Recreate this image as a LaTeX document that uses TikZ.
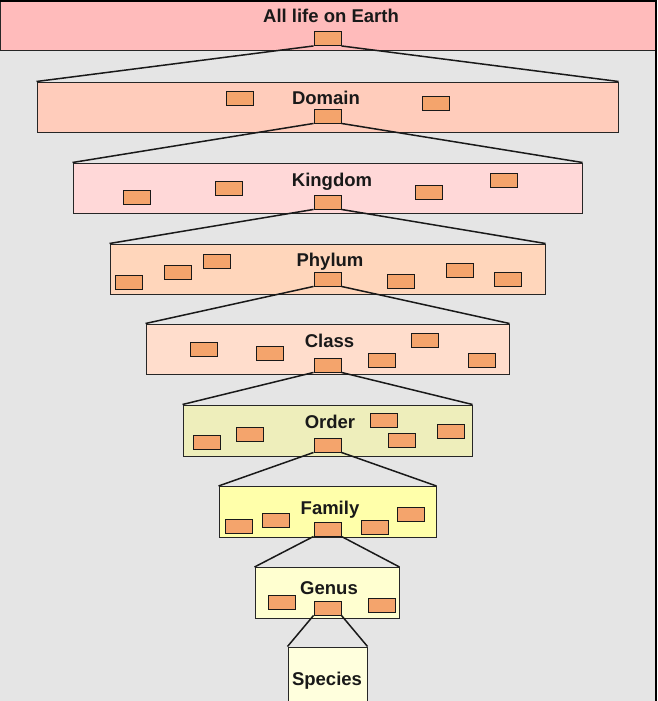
\documentclass[tikz,border=0pt]{standalone}
\usepackage{fontspec}
\setmainfont{Liberation Sans}
\usepackage{xcolor}
\usepackage{tikz}
\usetikzlibrary{positioning,calc}
\definecolor{bgfill}{HTML}{E5E5E5}
\definecolor{earthfill}{HTML}{FFBBBB}
\definecolor{domainfill}{HTML}{FFCCBB}
\definecolor{kingdomfill}{HTML}{FFD8D8}
\definecolor{phylumfill}{HTML}{FFD6BB}
\definecolor{classfill}{HTML}{FFDDCC}
\definecolor{orderfill}{HTML}{EEEEBB}
\definecolor{familyfill}{HTML}{FFFFAA}
\definecolor{genusfill}{HTML}{FFFFD0}
\definecolor{speciesfill}{HTML}{FFFFDD}
\definecolor{taxonfill}{HTML}{F4A46C}

\begin{document}
\begin{tikzpicture}[
    x=1pt, y=-1pt,
    level/.style={draw=black!85, line width=1pt, inner sep=0pt, minimum height=50pt},
    title/.style={font=\bfseries\fontsize{18.5}{20}\selectfont, text=black!90, inner sep=0pt, anchor=base},
    taxon/.style={draw=black!90, line width=0.9pt, fill=taxonfill, inner sep=0pt, minimum width=27pt, minimum height=14pt},
    link/.style={line width=1.5pt, black!90},
]
    \useasboundingbox (0,0) rectangle (657,701);
    \fill[bgfill] (0,0) rectangle (657,701);

    % Levels
    \node[level, fill=earthfill, minimum width=655pt, minimum height=49pt] (earth) at (327.5,26.5) {};
    \node[level, fill=domainfill, minimum width=581pt] (domain) at (327.5,107) {};
    \node[level, fill=kingdomfill, minimum width=509pt] (kingdom) at (327.5,188) {};
    \node[level, fill=phylumfill, minimum width=435pt] (phylum) at (327.5,269) {};
    \node[level, fill=classfill, minimum width=363pt] (class) at (327.5,349) {};
    \node[level, fill=orderfill, minimum width=289pt, minimum height=51pt] (order) at (327.5,430.5) {};
    \node[level, fill=familyfill, minimum width=217pt, minimum height=51pt] (family) at (327.5,512) {};
    \node[level, fill=genusfill, minimum width=144pt, minimum height=51pt] (genus) at (327,593) {};
    \node[level, fill=speciesfill, minimum width=79pt, minimum height=66pt] (species) at (327.5,680) {};

    % Titles (on their baselines)
    \node[title] (earth_t) at (331,23) {All life on Earth};
    \node[title] (domain_t) at (326,104) {Domain};
    \node[title] (kingdom_t) at (332,186) {Kingdom};
    \node[title] (phylum_t) at (330,266) {Phylum};
    \node[title] (class_t) at (329.5,347) {Class};
    \node[title] (order_t) at (330,428) {Order};
    \node[title] (family_t) at (330,514) {Family};
    \node[title] (genus_t) at (329,594) {Genus};
    \node[title] (species_t) at (327,685) {Species};

    % Members (the _r one is opened below)
    \node[taxon] (earth_r) at (327.5,38.5) {};

    \node[taxon] (domain_a) at (239.5,98) {};
    \node[taxon] (domain_b) at (436,103) {};
    \node[taxon] (domain_r) at (327.5,116) {};

    \node[taxon] (kingdom_a) at (136.5,197) {};
    \node[taxon] (kingdom_b) at (228.5,188) {};
    \node[taxon] (kingdom_c) at (428.5,192) {};
    \node[taxon] (kingdom_d) at (503.5,180) {};
    \node[taxon] (kingdom_r) at (327.5,202) {};

    \node[taxon] (phylum_a) at (128.5,282) {};
    \node[taxon] (phylum_b) at (177.5,272) {};
    \node[taxon] (phylum_c) at (216.5,261) {};
    \node[taxon] (phylum_d) at (400.5,281) {};
    \node[taxon] (phylum_e) at (459.5,270) {};
    \node[taxon] (phylum_f) at (508,279) {};
    \node[taxon] (phylum_r) at (327.5,279) {};

    \node[taxon] (class_a) at (203.5,349.5) {};
    \node[taxon] (class_b) at (269.5,353) {};
    \node[taxon] (class_c) at (382,360) {};
    \node[taxon] (class_d) at (425,340) {};
    \node[taxon] (class_e) at (481.5,360) {};
    \node[taxon] (class_r) at (327.5,365) {};

    \node[taxon] (order_a) at (206.5,442) {};
    \node[taxon] (order_b) at (249.5,434) {};
    \node[taxon] (order_c) at (383.5,420) {};
    \node[taxon] (order_d) at (401.5,440) {};
    \node[taxon] (order_e) at (450.5,431) {};
    \node[taxon] (order_r) at (327.5,445) {};

    \node[taxon] (family_a) at (238.5,526) {};
    \node[taxon] (family_b) at (275.5,520) {};
    \node[taxon] (family_c) at (374.5,527) {};
    \node[taxon] (family_d) at (410.5,514) {};
    \node[taxon] (family_r) at (327.5,529) {};

    \node[taxon] (genus_a) at (281.5,602) {};
    \node[taxon] (genus_b) at (381.5,605) {};
    \node[taxon] (genus_r) at (327.5,608) {};

    % Zoom lines
    \draw[link] (earth_r.south west) -- (domain.north west);
    \draw[link] (earth_r.south east) -- (domain.north east);
    \draw[link] (domain_r.south west) -- (kingdom.north west);
    \draw[link] (domain_r.south east) -- (kingdom.north east);
    \draw[link] (kingdom_r.south west) -- (phylum.north west);
    \draw[link] (kingdom_r.south east) -- (phylum.north east);
    \draw[link] (phylum_r.south west) -- (class.north west);
    \draw[link] (phylum_r.south east) -- (class.north east);
    \draw[link] (class_r.south west) -- (order.north west);
    \draw[link] (class_r.south east) -- (order.north east);
    \draw[link] (order_r.south west) -- (family.north west);
    \draw[link] (order_r.south east) -- (family.north east);
    \draw[link] (family_r.south west) -- (genus.north west);
    \draw[link] (family_r.south east) -- (genus.north east);
    \draw[link] (genus_r.south west) -- (species.north west);
    \draw[link] (genus_r.south east) -- (species.north east);

    % Frame
    \draw[line width=2.5pt, black] (0,1.25) -- (655.75,1.25) -- (655.75,701);
\end{tikzpicture}
\end{document}
